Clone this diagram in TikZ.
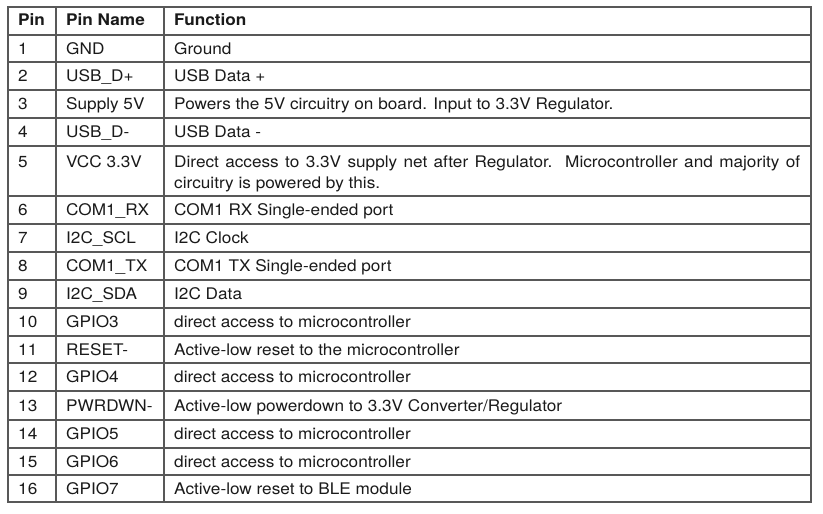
\documentclass[tikz,border=0pt]{standalone}
\usepackage{fontspec}
\setmainfont[FakeStretch=1.075]{TeX Gyre Heros}
\definecolor{gridc}{HTML}{585858}
\definecolor{ink}{HTML}{1A1A1A}
\begin{document}
\begin{tikzpicture}[x=1pt,y=-1pt,
  cell/.style={anchor=base west, inner sep=0pt, text=ink, font=\fontsize{16}{21}\selectfont},
  headcell/.style={cell, font=\fontsize{16}{21}\selectfont\bfseries},
  rulel/.style={draw=gridc, line width=1.1pt}]
\useasboundingbox (0,0) rectangle (823,514);
\fill[white] (0,0) rectangle (823,514);
% grid
\foreach \yy in {35,62,90,118,146,196,224,252,280,308,336,363,391,420,448,475}
  \draw[rulel] (8,\yy) -- (811,\yy);
\draw[rulel] (56,7) -- (56,502);
\draw[rulel] (164,7) -- (164,502);
\draw[rulel] (8,7) rectangle (811,502);
% header
\node[headcell] (hp) at (18,26) {Pin};
\node[headcell] (hn) at (66,26) {Pin Name};
\node[headcell] (hf) at (174,26) {Function};
% rows
\foreach \r/\t/\b/\nm/\fn in {
  1/35/62/GND/Ground,
  2/62/90/USB\_D+/USB Data +,
  3/90/118/Supply 5V/Powers the 5V circuitry on board. Input to 3.3V Regulator.,
  4/118/146/USB\_D-/USB Data -,
  6/196/224/COM1\_RX/COM1 RX Single-ended port,
  7/224/252/I2C\_SCL/I2C Clock,
  8/252/280/COM1\_TX/COM1 TX Single-ended port,
  9/280/308/I2C\_SDA/I2C Data,
  10/308/336/GPIO3/direct access to microcontroller,
  11/336/363/RESET-/Active-low reset to the microcontroller,
  12/363/391/GPIO4/direct access to microcontroller,
  13/391/420/PWRDWN-/{Active-low powerdown to 3.3V Converter/Regulator},
  14/420/448/GPIO5/direct access to microcontroller,
  15/448/475/GPIO6/direct access to microcontroller,
  16/475/502/GPIO7/Active-low reset to BLE module}{
  \pgfmathsetmacro\yb{(\t+\b)/2+5.5}
  \node[cell] (p\r) at (18,\yb) {\r};
  \node[cell] (n\r) at (66,\yb) {\nm};
  \node[cell] (f\r) at (174,\yb) {\fn};
}
% row 5
\node[cell] (p5) at (18,167) {5};
\node[cell] (n5) at (66,167) {VCC 3.3V};
\node[cell] (f5a) at (174,167) {\makebox[626pt][s]{Direct access to 3.3V supply net after Regulator.\ \ Microcontroller and majority of}};
\node[cell] (f5b) at (174,188) {circuitry is powered by this.};
\end{tikzpicture}
\end{document}
